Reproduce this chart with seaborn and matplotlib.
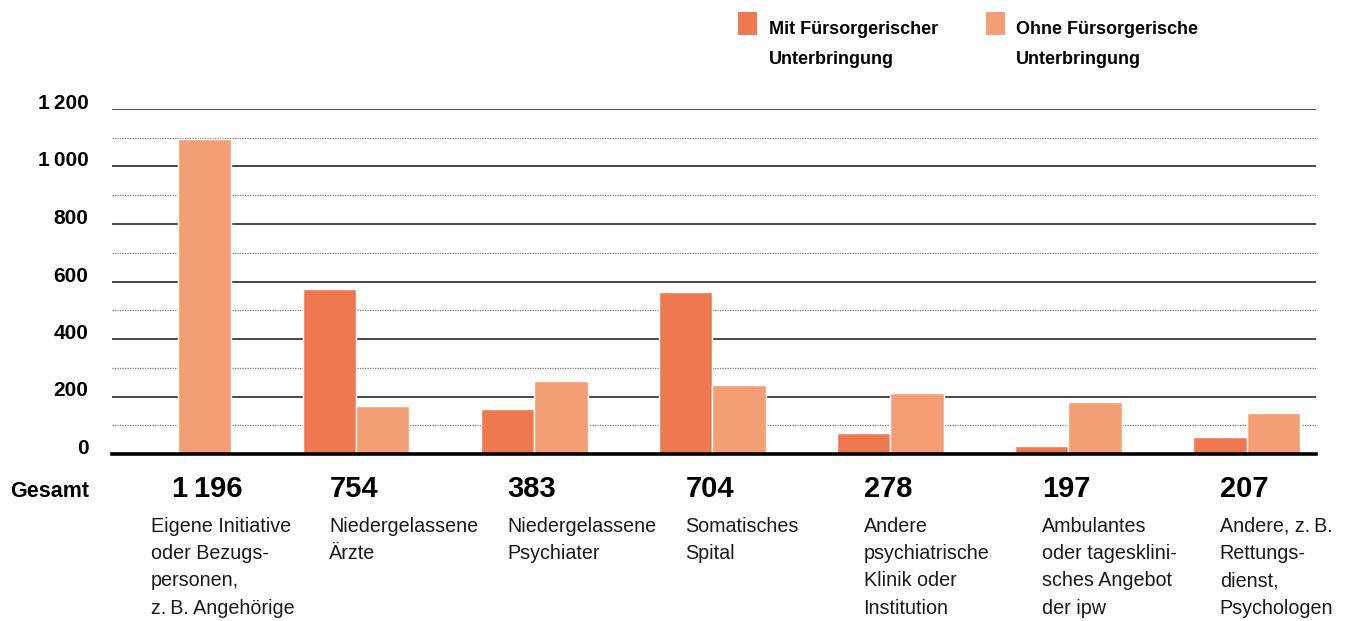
import matplotlib
matplotlib.use("Agg")
import matplotlib.pyplot as plt
import matplotlib.transforms as mtransforms
from matplotlib.patches import Rectangle
import seaborn as sns
import pandas as pd

# ---------------- data ----------------
categories = [
    "Eigene Initiative\noder Bezugs-\npersonen,\nz.\u2009B. Angehörige",
    "Niedergelassene\nÄrzte",
    "Niedergelassene\nPsychiater",
    "Somatisches\nSpital",
    "Andere\npsychiatrische\nKlinik oder\nInstitution",
    "Ambulantes\noder tagesklini-\nsches Angebot\nder ipw",
    "Andere, z.\u2009B.\nRettungs-\ndienst,\nPsychologen",
]
series_names = ["Mit Fürsorgerischer\nUnterbringung", "Ohne Fürsorgerische\nUnterbringung"]
mit_values = [0, 574, 157, 563, 73, 28, 59]
ohne_values = [1096, 167, 254, 240, 212, 181, 143]
totals = [1196, 754, 383, 704, 278, 197, 207]
y_ticks = [0, 200, 400, 600, 800, 1000, 1200]
total_label = "Gesamt"

colors = ["#EE7850", "#F49E75"]

def fmt(v):
    s = f"{v:,}"
    return s.replace(",", "\u2009")

# ---------------- figure ----------------
sns.set_theme(style="white")
plt.rcParams["font.family"] = ["Liberation Sans", "DejaVu Sans"]
plt.rcParams["text.color"] = "black"
plt.rcParams["ytick.color"] = "black"

W, H = 1354, 621
fig = plt.figure(figsize=(W / 100, H / 100), dpi=100)
ax = fig.add_axes([112 / W, 1 - 454 / H, (1316 - 112) / W, (454 - 109) / H])

keys = [f"c{i}" for i in range(len(categories))]
df = pd.DataFrame({
    "cat": keys * 2,
    "value": mit_values + ohne_values,
    "series": [series_names[0]] * len(keys) + [series_names[1]] * len(keys),
})

sns.barplot(data=df, x="cat", y="value", hue="series", order=keys,
            hue_order=series_names, palette=colors, width=0.6,
            saturation=1, dodge=True, legend=False, ax=ax, zorder=3)

ax.set_xlim(-0.37, 6.39)
ax.set_ylim(0, 1200)
ax.set_xlabel("")
ax.set_ylabel("")
ax.set_xticks([])
ax.set_yticks(y_ticks)
ax.set_yticks([v + 100 for v in y_ticks[:-1]], minor=True)
ax.set_yticklabels([fmt(v) for v in y_ticks], fontsize=15, fontweight="bold",
                   color="black")
for lab in ax.get_yticklabels():
    lab.set_verticalalignment("baseline")
ax.tick_params(axis="y", which="both", length=0, pad=17)
ax.grid(False)
ax.set_axisbelow(True)
ax.yaxis.grid(True, which="major", color="#2a2a2a", lw=1.2)
ax.yaxis.grid(True, which="minor", color="#777777", lw=0.9, ls=(0, (1, 1)))
for side in ["top", "right", "left"]:
    ax.spines[side].set_visible(False)
ax.spines["bottom"].set_color("black")
ax.spines["bottom"].set_linewidth(2.6)
ax.spines["bottom"].set_zorder(5)

# ---------------- category texts ----------------
trans = mtransforms.blended_transform_factory(ax.transData, fig.transFigure)
for i, (cat, tot) in enumerate(zip(categories, totals)):
    x0 = i - 0.15
    tx = x0 + (0.115 if i == 0 else 0)
    ax.text(tx, 1 - 497 / H, fmt(tot), transform=trans, ha="left",
            va="baseline", fontsize=21, fontweight="bold", color="black")
    ax.text(x0, 1 - 517 / H, cat, transform=trans, ha="left", va="top",
            fontsize=14.2, linespacing=1.55, color="#1a1a1a")

fig.text(10 / W, 1 - 497 / H, total_label, ha="left", va="baseline",
         fontsize=15.5, fontweight="bold", color="black")

# ---------------- legend ----------------
leg_pos = [(738, 769), (986, 1016)]
for (sx, tx), name, col in zip(leg_pos, series_names, colors):
    fig.add_artist(Rectangle((sx / W, 1 - 35 / H), 19 / W, 23 / H,
                             transform=fig.transFigure, color=col, lw=0))
    fig.text(tx / W, 1 - 21 / H, name, ha="left", va="top", color="black",
             fontsize=13, fontweight="bold", linespacing=2.0)

fig.savefig("out.png", dpi=100)
